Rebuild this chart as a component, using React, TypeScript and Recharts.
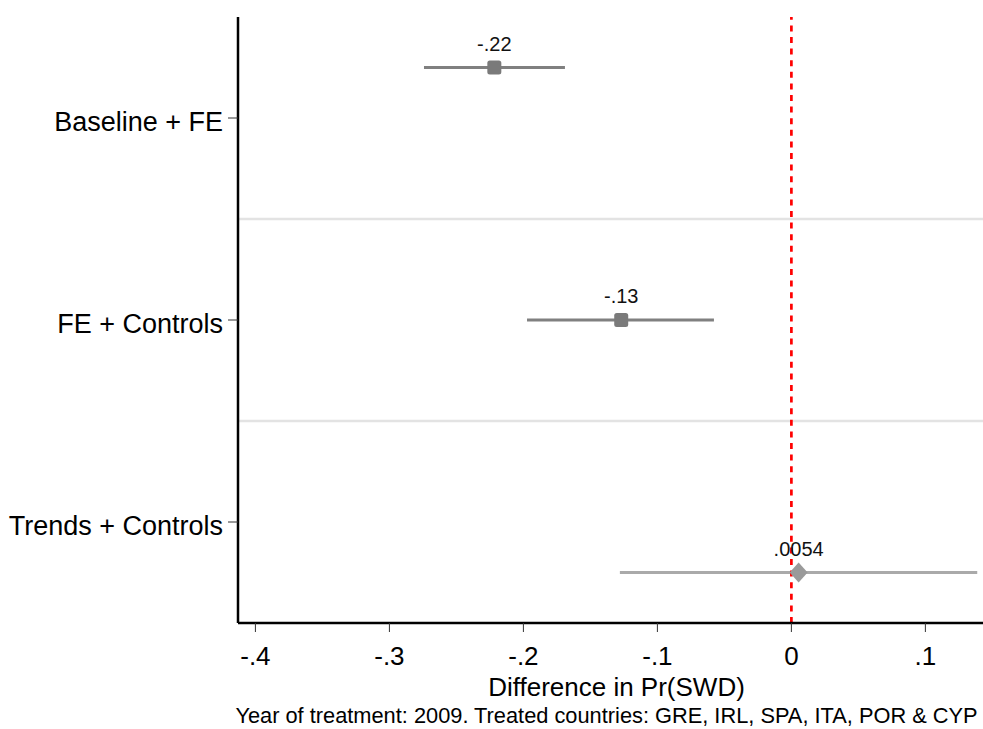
import {
  ScatterChart,
  Scatter,
  XAxis,
  YAxis,
  ReferenceLine,
  Label,
} from 'recharts';

const models = ['Baseline + FE', 'FE + Controls', 'Trends + Controls'];
const modelPos = [0.75, 2, 3.25];
const coefs = [-0.2217, -0.127, 0.0054];
const ciLow = [-0.2742, -0.1973, -0.128];
const ciHigh = [-0.169, -0.0578, 0.1387];
const coefLabels = ['-.22', '-.13', '.0054'];
const xTicks = [-0.4, -0.3, -0.2, -0.1, 0, 0.1];
const yTicks = [1, 2, 3];

const FONT = '"Liberation Sans", Arial, sans-serif';

const lineColors = ['#808080', '#808080', '#aaaaaa'];
const markerColors = ['#7a7a7a', '#7a7a7a', '#9a9a9a'];

const rows = models.map((m, i) => ({
  name: m,
  x: coefs[i],
  y: modelPos[i],
  lo: ciLow[i],
  hi: ciHigh[i],
  label: coefLabels[i],
}));

const fmtX = (v: number) => {
  if (v === 0) return '0';
  return v.toFixed(1).replace('0.', '.');
};

function pointShape(idx: number) {
  return (props: any) => {
    const { cx, cy, payload } = props;
    const col = markerColors[idx];
    return (
      <g>
        {idx < 2 ? (
          <rect x={cx - 7} y={cy - 7} width={14} height={14} rx={2.5} fill={col} />
        ) : (
          <polygon
            points={`${cx},${cy - 10} ${cx + 9},${cy} ${cx},${cy + 10} ${cx - 9},${cy}`}
            fill={col}
          />
        )}
        <text
          x={cx}
          y={cy - 17}
          textAnchor="middle"
          fontSize={20}
          fontFamily={FONT}
          fill="#111"
        >
          {payload.label}
        </text>
      </g>
    );
  };
}

export default function App() {
  return (
    <div style={{ position: 'absolute', left: 0, top: 0, background: '#fff' }}>
      <ScatterChart
        width={983}
        height={729}
        margin={{ top: 17, right: 0, left: 0, bottom: 0 }}
      >
        <XAxis
          type="number"
          dataKey="x"
          domain={[-0.413, 0.143]}
          allowDataOverflow
          ticks={xTicks}
          interval={0}
          tickFormatter={fmtX}
          tick={{ fill: '#000', fontSize: 26, fontFamily: FONT }}
          tickSize={9}
          tickMargin={15}
          tickLine={{ stroke: '#333', strokeWidth: 1 }}
          axisLine={{ stroke: '#000', strokeWidth: 2.5 }}
          height={106}
        >
          <Label
            content={(p: any) => {
              const vb = p.viewBox || { x: 238, y: 623, width: 745 };
              return (
                <g>
                  <text
                    x={vb.x + vb.width / 2 + 6}
                    y={vb.y + 73}
                    textAnchor="middle"
                    fontSize={26}
                    fontFamily={FONT}
                    fill="#000"
                  >
                    Difference in Pr(SWD)
                  </text>
                  <text
                    x={vb.x + vb.width / 2 - 4}
                    y={vb.y + 100}
                    textAnchor="middle"
                    fontSize={21.8}
                    fontFamily={FONT}
                    fill="#000"
                  >
                    Year of treatment: 2009. Treated countries: GRE, IRL, SPA, ITA, POR &amp; CYP
                  </text>
                </g>
              );
            }}
          />
        </XAxis>
        <YAxis
          type="number"
          dataKey="y"
          domain={[0.5, 3.5]}
          allowDataOverflow
          reversed
          ticks={yTicks}
          interval={0}
          tickFormatter={(v: number) => models[v - 1]}
          tick={{ fill: '#000', fontSize: 27, fontFamily: FONT, dy: 3 }}
          tickSize={10}
          tickMargin={5}
          tickLine={{ stroke: '#333', strokeWidth: 1 }}
          axisLine={{ stroke: '#000', strokeWidth: 2.5 }}
          width={238}
        />
        <ReferenceLine y={1.5} stroke="#e3e3e3" strokeWidth={2.5} />
        <ReferenceLine y={2.5} stroke="#e3e3e3" strokeWidth={2.5} />
        {rows.map((r, i) => (
          <ReferenceLine
            key={'ci' + r.name}
            segment={[
              { x: r.lo, y: r.y },
              { x: r.hi, y: r.y },
            ]}
            stroke={lineColors[i]}
            strokeWidth={3}
          />
        ))}
        <ReferenceLine x={0} stroke="#ff0000" strokeWidth={2.7} strokeDasharray="6 5.6" />
        {rows.map((r, i) => (
          <Scatter
            key={r.name}
            data={[r]}
            isAnimationActive={false}
            shape={pointShape(i)}
          />
        ))}
      </ScatterChart>
    </div>
  );
}
